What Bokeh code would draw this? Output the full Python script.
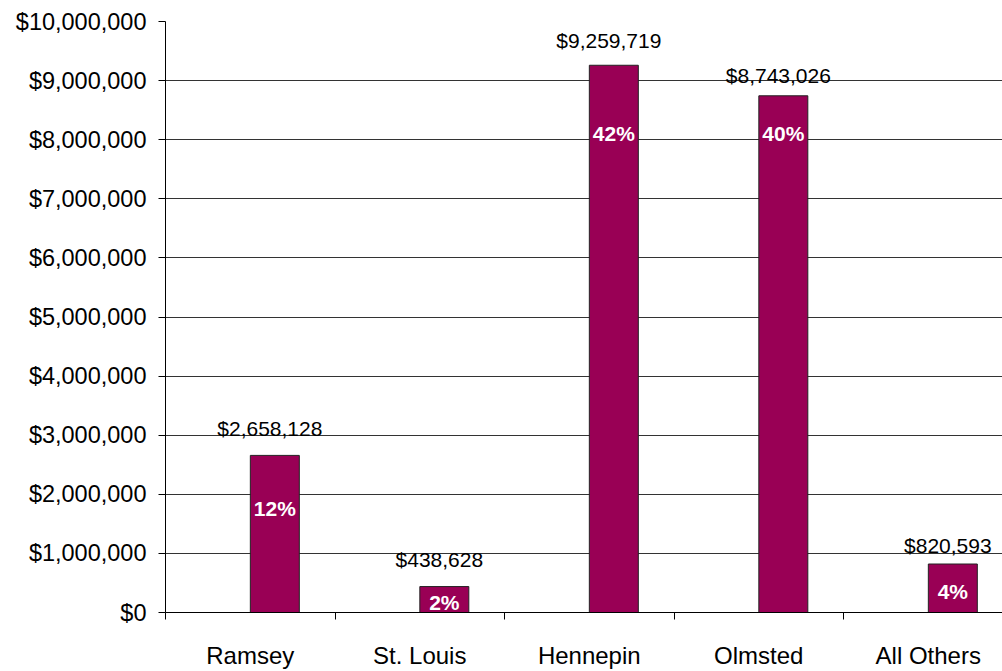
from bokeh.plotting import figure
from bokeh.models import ColumnDataSource, Range1d, FixedTicker, NumeralTickFormatter
from bokeh.embed import file_html
from bokeh.resources import INLINE
from bokeh.core.properties import value

# ---- data ----
categories = ["Ramsey", "St. Louis", "Hennepin", "Olmsted", "All Others"]
amounts = [2658128, 438628, 9259719, 8743026, 820593]
shares = ["12%", "2%", "42%", "40%", "4%"]
y_ticks = [0, 1000000, 2000000, 3000000, 4000000, 5000000,
           6000000, 7000000, 8000000, 9000000, 10000000]

# ---- layout helpers (positions / styles) ----
bar_offset = 0.145          # bars sit right of the category centre
bar_width = 0.289
share_label_y = [1757000, 169000, 8100000, 8100000, 360000]
amount_lift = [27, 27, 25, 20, 19]   # px from bar top to text baseline

BAR = "#990055"
FONT = "Liberation Sans"

xs = [i + 0.5 + bar_offset for i in range(len(categories))]
src = ColumnDataSource(dict(
    x=xs,
    top=amounts,
    amt=[f"${a:,}" for a in amounts],
    share=shares,
    sy=share_label_y,
    lift=[-v for v in amount_lift],
))

p = figure(width=1002, height=671, output_backend="svg", toolbar_location=None,
           x_range=Range1d(0, 837 / 169.5), y_range=Range1d(0, 10000000),
           min_border_left=165, min_border_right=0, min_border_top=21,
           min_border_bottom=58)
p.outline_line_color = None
p.background_fill_color = "white"
p.border_fill_color = "white"

p.vbar(x="x", top="top", bottom=0, width=bar_width, source=src,
       fill_color=BAR, line_color="#222222", line_width=1)

p.text(x="x", y="top", text="amt", source=src, x_offset=-5, y_offset="lift",
       text_align="center", text_baseline="alphabetic",
       text_font=value(FONT), text_font_size="21px", text_color="black")
p.text(x="x", y="sy", text="share", source=src,
       text_align="center", text_baseline="middle",
       text_font=value(FONT), text_font_size="21px", text_font_style="bold",
       text_color="white")

# grid
p.xgrid.grid_line_color = None
p.ygrid.ticker = FixedTicker(ticks=y_ticks)
p.ygrid.grid_line_color = "#333333"
p.ygrid.grid_line_width = 1

# y axis
ya = p.yaxis[0]
ya.ticker = FixedTicker(ticks=y_ticks)
ya.formatter = NumeralTickFormatter(format="$0,0")
ya.major_tick_out = 7
ya.major_tick_in = 0
ya.minor_tick_line_color = None
ya.axis_line_color = "black"
ya.major_tick_line_color = "black"
ya.major_label_text_font = FONT
ya.major_label_text_font_size = "23.5px"
ya.major_label_text_color = "black"
ya.major_label_standoff = 12

# x axis: ticks at category boundaries, labels at centres
xa = p.xaxis[0]
centres = [i + 0.5 for i in range(len(categories))]
xa.ticker = FixedTicker(ticks=centres, minor_ticks=[0, 1, 2, 3, 4, 5])
xa.major_label_overrides = {c: name for c, name in zip(centres, categories)}
xa.major_tick_line_color = None
xa.major_tick_out = 0
xa.major_tick_in = 0
xa.minor_tick_out = 7
xa.minor_tick_in = 0
xa.minor_tick_line_color = "black"
xa.axis_line_color = "black"
xa.major_label_text_font = FONT
xa.major_label_text_font_size = "24px"
xa.major_label_text_color = "black"
xa.major_label_standoff = 22

open("out.html", "w").write(file_html(p, INLINE))
